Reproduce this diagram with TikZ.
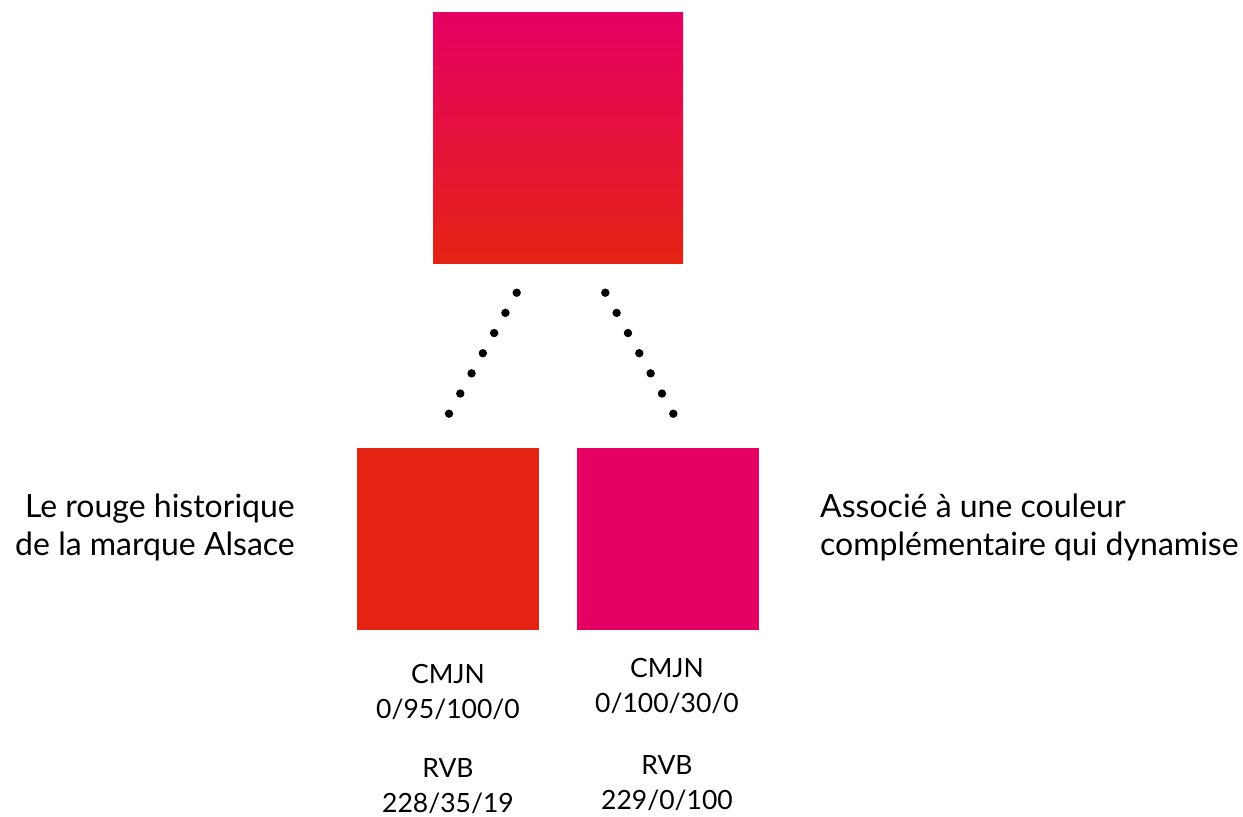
\documentclass[tikz,border=0pt]{standalone}
\usepackage{fontspec}
\setmainfont{Lato}
\usetikzlibrary{positioning,calc}
\definecolor{alsred}{RGB}{228,35,19}
\definecolor{alsmagenta}{RGB}{229,0,100}

\begin{document}
\begin{tikzpicture}[x=1pt,y=-1pt]
\useasboundingbox (0,0) rectangle (1243,817);
\tikzset{
  swatch/.style={minimum size=182pt,inner sep=0pt,outer sep=0pt},
  caption/.style={font=\fontsize{32}{38}\selectfont,inner sep=0pt},
  code/.style={font=\fontsize{26.5}{35}\selectfont,align=center,inner sep=0pt},
}
% Gradient square
\node[minimum width=250pt,minimum height=251pt,inner sep=0pt,
  top color=alsmagenta,bottom color=alsred] (mix) at (558,137.5) {};

% Two colour squares
\node[swatch,fill=alsred] (red) at (448,539) {};
\node[swatch,fill=alsmagenta] (magenta) at (668,539) {};

% Dotted links
\coordinate (l1) at (516.7,292.7);
\coordinate (l2) at (449,413.7);
\coordinate (r1) at (605.3,292.7);
\coordinate (r2) at (673.3,413.7);
\foreach \t in {0,1,...,6}{
  \fill ($(l1)!\t/6!(l2)$) circle (4.2pt);
  \fill ($(r1)!\t/6!(r2)$) circle (4.2pt);
}

% Labels
\node[caption,align=right,anchor=east] (histo) at (295,527)
  {Le rouge historique\\de la marque Alsace};
\node[caption,align=left,anchor=west] (assoc) at (820,527)
  {Associé à une couleur\\complémentaire qui dynamise};
\node[code] (redcmjn) at (448,692) {CMJN\\0/95/100/0};
\node[code] (redrvb) at (448,786.5) {RVB\\228/35/19};
\node[code] (magcmjn) at (667,686) {CMJN\\0/100/30/0};
\node[code] (magrvb) at (667,783) {RVB\\229/0/100};
\end{tikzpicture}
\end{document}
